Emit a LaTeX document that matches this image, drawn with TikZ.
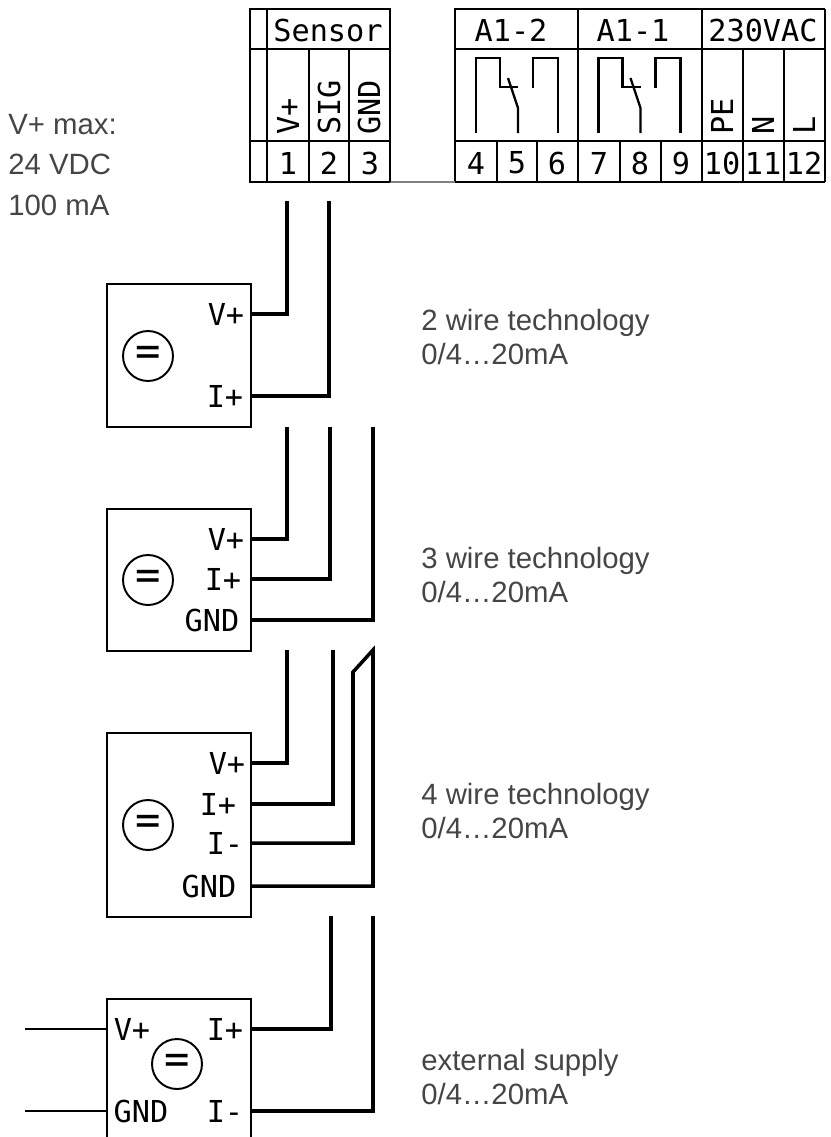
\documentclass[tikz,border=0pt]{standalone}
\usepackage{fontspec}
\setmainfont{Liberation Sans}
\newfontfamily\termfont{DejaVu Sans Mono}
\usepackage{tikz}
\usetikzlibrary{positioning}
\definecolor{notegray}{gray}{0.27}
\tikzset{
  x=0.02cm,
  y=-0.02cm,
  frame/.style={line width=1.3pt},
  wire/.style={line width=2pt, line join=miter},
  device/.style={draw, line width=1.3pt, minimum width=2.88cm, inner sep=0pt},
  supply/.style={draw, circle, line width=1.1pt, minimum size=1cm, inner sep=0pt, font=\termfont\fontsize{24}{24}\selectfont},
  term/.style={inner sep=0pt, font=\termfont\fontsize{17.2}{19}\selectfont},
  vterm/.style={term, rotate=90, anchor=west},
  note/.style={inner sep=0pt, anchor=west, align=left, text=notegray, font=\fontsize{16.7}{19}\selectfont},
}

\begin{document}
\begin{tikzpicture}
  \useasboundingbox (0,0) rectangle (831,1137);

  % terminal strip
  \draw[frame] (390,182) -- (250,182) -- (250,9) -- (390,9) -- cycle;
  \draw[frame] (455,182) -- (825,182) (455,182) -- (455,9) -- (825,9);
  \draw[gray, line width=0.8pt] (390,182) -- (455,182);
  \draw[frame] (250,49) -- (390,49) (455,49) -- (825,49);
  \draw[frame] (250,141) -- (390,141) (455,141) -- (825,141);
  \foreach \x in {267,390,578,702,825} \draw[frame] (\x,9) -- (\x,182);
  \foreach \x in {309,349,743,784} \draw[frame] (\x,49) -- (\x,182);
  \foreach \x in {497,537,620,661} \draw[frame] (\x,141) -- (\x,182);

  \node[term] (sensor) at (328,30) {Sensor};
  \node[term] (a12) at (511,30) {A1-2};
  \node[term] (a11) at (633,30) {A1-1};
  \node[term] (ac) at (763,30) {230VAC};

  \node[vterm] (lv) at (288,135) {V+};
  \node[vterm] (lsig) at (329,135) {SIG};
  \node[vterm] (lgnd) at (369,135) {GND};
  \node[vterm] (lpe) at (722,135) {PE};
  \node[vterm] (ln) at (763,135) {N};
  \node[vterm] (ll) at (804,135) {L};

  \foreach \x/\n in {288/1,329/2,370/3,476/4,517/5,557/6,599/7,640/8,681/9,722/10,763/11,804/12}
    \node[term] (pin\n) at (\x,163) {\n};

  % relay contacts
  \foreach \d in {0,122.5} {
    \draw[frame] (476+\d,133) -- (476+\d,58) -- (500+\d,58) -- (500+\d,87) -- (518+\d,87);
    \draw[frame] (508+\d,78) -- (518+\d,108) -- (518+\d,133);
    \draw[frame] (533+\d,88) -- (533+\d,58) -- (558+\d,58) -- (558+\d,133);
  }

  \node[note, align=left, font=\fontsize{16.7}{23.2}\selectfont] (limits) at (8,165) {V+ max:\\24 VDC\\100 mA};

  % 2 wire
  \node[device, minimum height=2.86cm] (dev2) at (179,355.5) {};
  \node[supply] (eq2) at (148,356) {=};
  \node[term] (dev2v) at (226,314) {V+};
  \node[term] (dev2i) at (225,396) {I+};
  \coordinate (top2v) at (287,201);
  \coordinate (top2i) at (329,201);
  \draw[wire] (dev2.east |- dev2v) -| (top2v);
  \draw[wire] (dev2.east |- dev2i) -| (top2i);
  \node[note] (note2) at (421,337) {2 wire technology\\0/4…20mA};

  % 3 wire
  \node[device, minimum height=2.84cm] (dev3) at (179,580) {};
  \node[supply] (eq3) at (148,580) {=};
  \node[term] (dev3v) at (226,539) {V+};
  \node[term] (dev3i) at (223,579) {I+};
  \node[term] (dev3g) at (212,620) {GND};
  \coordinate (top3v) at (287,427);
  \coordinate (top3i) at (330,427);
  \coordinate (top3g) at (373,427);
  \draw[wire] (dev3.east |- dev3v) -| (top3v);
  \draw[wire] (dev3.east |- dev3i) -| (top3i);
  \draw[wire] (dev3.east |- dev3g) -| (top3g);
  \node[note] (note3) at (421,575) {3 wire technology\\0/4…20mA};

  % 4 wire
  \node[device, minimum height=3.68cm] (dev4) at (179,825) {};
  \node[supply] (eq4) at (148,825) {=};
  \node[term] (dev4v) at (227,763) {V+};
  \node[term] (dev4i) at (218,804) {I+};
  \node[term] (dev4n) at (225,843) {I-};
  \node[term] (dev4g) at (209,886) {GND};
  \coordinate (top4v) at (287,650);
  \coordinate (top4i) at (333,650);
  \coordinate (kink4) at (353,672);
  \coordinate (top4g) at (373,650);
  \draw[wire] (dev4.east |- dev4v) -| (top4v);
  \draw[wire] (dev4.east |- dev4i) -| (top4i);
  \draw[wire] (dev4.east |- dev4n) -| (kink4) -- (top4g) -- (top4g |- dev4g) -- (dev4.east |- dev4g);
  \node[note] (note4) at (421,811) {4 wire technology\\0/4…20mA};

  % external supply
  \coordinate (extnw) at (107,999);
  \coordinate (extne) at (251,999);
  \draw[line width=1.3pt] (extnw |- 0,1140) -- (extnw) -- (extne) -- (extne |- 0,1140);
  \node[supply] (eqx) at (177,1064) {=};
  \node[term] (extv) at (132,1029) {V+};
  \node[term] (exti) at (225,1029) {I+};
  \node[term] (extg) at (141,1111) {GND};
  \node[term] (extn) at (225,1111) {I-};
  \coordinate (leftv) at (25,1029);
  \coordinate (leftg) at (25,1111);
  \coordinate (topxi) at (331,916);
  \coordinate (topxn) at (373,916);
  \draw[line width=1.5pt] (leftv) -- (extnw |- leftv);
  \draw[line width=1.5pt] (leftg) -- (extnw |- leftg);
  \draw[wire] (extne |- exti) -| (topxi);
  \draw[wire] (extne |- extn) -| (topxn);
  \node[note] (notex) at (421,1077) {external supply\\0/4…20mA};
\end{tikzpicture}
\end{document}
